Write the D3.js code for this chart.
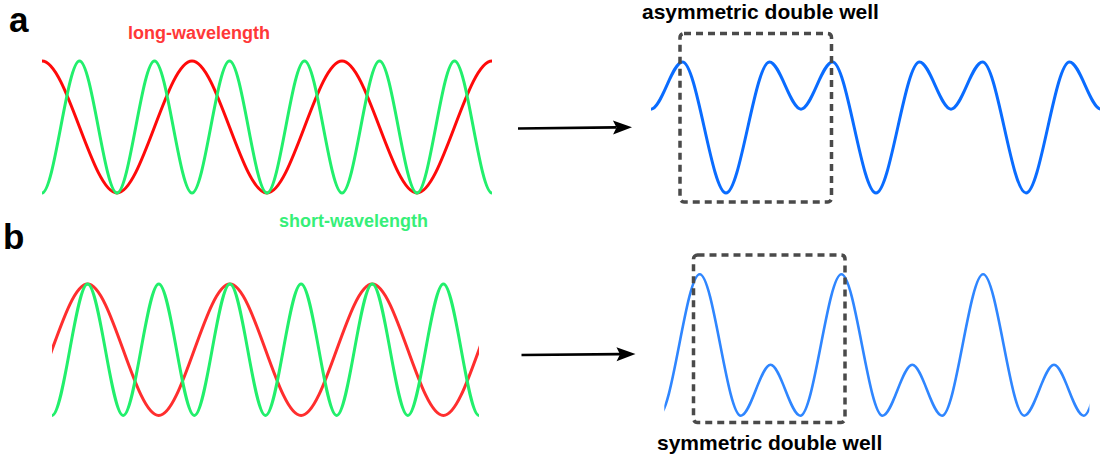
<!DOCTYPE html>
<html>
<head>
<meta charset="utf-8">
<script src="https://cdn.jsdelivr.net/npm/d3@7"></script>
<style>
  html, body { margin: 0; padding: 0; background: #fff; }
  svg { display: block; }
  text { font-family: "Liberation Sans", Arial, Helvetica, sans-serif; font-weight: bold; }
</style>
</head>
<body>
<script>
// Turning points (peaks and troughs) of every wave.
// x: position in cycles of the long wave, y: amplitude in arbitrary units.

// panel a — long wave starts on a crest, short wave on a trough
const longA_x  = [0, 0.5, 1, 1.5, 2, 2.5, 3];
const longA_y  = [1, -1, 1, -1, 1, -1, 1];
const shortA_x = [0, 0.25, 0.5, 0.75, 1, 1.25, 1.5, 1.75, 2, 2.25, 2.5, 2.75, 3];
const shortA_y = [-1, 1, -1, 1, -1, 1, -1, 1, -1, 1, -1, 1, -1];
// their sum: asymmetric double well
const sumA_x = [0, 0.21, 0.5, 0.79, 1, 1.21, 1.5, 1.79, 2, 2.21, 2.5, 2.79, 3];
const sumA_y = [0, 1.125, -2, 1.125, 0, 1.125, -2, 1.125, 0, 1.125, -2, 1.125, 0];

// panel b — long wave shifted a quarter cycle; its crests line up with short-wave crests
const longB_x  = [-0.25, 0.25, 0.75, 1.25, 1.75, 2.25, 2.75, 3.25];
const longB_y  = [-1, 1, -1, 1, -1, 1, -1, 1];
const shortB_x = [0, 0.25, 0.5, 0.75, 1, 1.25, 1.5, 1.75, 2, 2.25, 2.5, 2.75, 3];
const shortB_y = [-1, 1, -1, 1, -1, 1, -1, 1, -1, 1, -1, 1, -1];
// their sum: symmetric double well
const sumB_x = [-0.04, 0.25, 0.54, 0.75, 0.96, 1.25, 1.54, 1.75, 1.96, 2.25, 2.54, 2.75, 2.96, 3.25];
const sumB_y = [-1.125, 2, -1.125, 0, -1.125, 2, -1.125, 0, -1.125, 2, -1.125, 0, -1.125, 2];

// text
const panelLetters = ["a", "b"];
const waveLabels   = ["long-wavelength", "short-wavelength"];
const wellLabels   = ["asymmetric double well", "symmetric double well"];

const W = 1100, H = 459;
const svg = d3.select("body").append("svg").attr("width", W).attr("height", H);

// Smooth curve through turning points: horizontal tangent at each knot.
function curveTurning(context) {
  let x0, y0, started;
  return {
    areaStart() {}, areaEnd() {},
    lineStart() { started = false; },
    lineEnd() {},
    point(x, y) {
      x = +x; y = +y;
      if (!started) { context.moveTo(x, y); started = true; }
      else {
        const h = (x - x0) / 3;
        context.bezierCurveTo(x0 + h, y0, x - h, y, x, y);
      }
      x0 = x; y0 = y;
    }
  };
}

const panels = [
  { id: "la", x: d3.scaleLinear([0, 3], [42, 492]),     y: d3.scaleLinear([-1, 1], [193, 61]) },
  { id: "lb", x: d3.scaleLinear([0, 3], [52, 479]),     y: d3.scaleLinear([-1, 1], [415.5, 284]) },
  { id: "ra", x: d3.scaleLinear([0, 3], [651, 1101]),   y: d3.scaleLinear([-2, 1.125], [193, 62]) },
  { id: "rb", x: d3.scaleLinear([0, 3], [664.3, 1089.4]), y: d3.scaleLinear([-1.125, 2], [415.7, 274.3]) }
];
const P = Object.fromEntries(panels.map(p => [p.id, p]));

const defs = svg.append("defs");
panels.forEach(p => {
  defs.append("clipPath").attr("id", "clip-" + p.id)
    .append("rect")
    .attr("x", p.x(0)).attr("y", 0)
    .attr("width", p.x(3) - p.x(0)).attr("height", H);
});

function drawWave(panelId, xs, ys, color, width) {
  const p = P[panelId];
  const pts = xs.map((x, i) => [x, ys[i]]);
  const line = d3.line().x(d => p.x(d[0])).y(d => p.y(d[1])).curve(curveTurning);
  svg.append("path")
    .attr("clip-path", `url(#clip-${panelId})`)
    .attr("d", line(pts))
    .attr("fill", "none")
    .attr("stroke", color)
    .attr("stroke-width", width);
}

const RED_A = "#ff0a0a", RED_B = "#ff2e2e", GREEN = "#22ef6c";
const BLUE_A = "#0a6cff", BLUE_B = "#2f86ff";

drawWave("la", longA_x, longA_y, RED_A, 3);
drawWave("la", shortA_x, shortA_y, GREEN, 3);
drawWave("lb", longB_x, longB_y, RED_B, 3);
drawWave("lb", shortB_x, shortB_y, GREEN, 3);
drawWave("ra", sumA_x, sumA_y, BLUE_A, 3);
drawWave("rb", sumB_x, sumB_y, BLUE_B, 2.6);

// dashed frames around one double well
function dashedBox(x0, y0, x1, y1) {
  svg.append("rect")
    .attr("x", x0).attr("y", y0)
    .attr("width", x1 - x0).attr("height", y1 - y0)
    .attr("rx", 4).attr("ry", 4)
    .attr("fill", "none")
    .attr("stroke", "#4a4a4a")
    .attr("stroke-width", 3.5)
    .attr("stroke-dasharray", "7,5");
}
dashedBox(680, 33.5, 831.5, 202);
dashedBox(693.5, 255, 845, 422.5);

// arrows from the components to their sum
function arrow(x0, y0, x1, y1) {
  const ang = Math.atan2(y1 - y0, x1 - x0);
  const len = 19, half = 7, notch = 3.5;
  const back = [x1 - len * Math.cos(ang), y1 - len * Math.sin(ang)];
  const nx = -Math.sin(ang), ny = Math.cos(ang);
  svg.append("line")
    .attr("x1", x0).attr("y1", y0)
    .attr("x2", back[0] + notch * Math.cos(ang)).attr("y2", back[1] + notch * Math.sin(ang))
    .attr("stroke", "#000").attr("stroke-width", 2.6);
  const head = [
    [x1, y1],
    [back[0] + half * nx, back[1] + half * ny],
    [back[0] + notch * Math.cos(ang), back[1] + notch * Math.sin(ang)],
    [back[0] - half * nx, back[1] - half * ny]
  ];
  svg.append("path").attr("d", "M" + head.map(d => d.join(",")).join("L") + "Z").attr("fill", "#000");
}
arrow(518, 128.5, 632, 127.2);
arrow(521.5, 355, 635.5, 354);

// labels
svg.append("text").attr("x", 9).attr("y", 32).attr("font-size", 35).attr("fill", "#000").text(panelLetters[0]);
svg.append("text").attr("x", 3).attr("y", 249).attr("font-size", 35).attr("fill", "#000").text(panelLetters[1]);
svg.append("text").attr("x", 128).attr("y", 39).attr("font-size", 18).attr("fill", "#ff3838").text(waveLabels[0]);
svg.append("text").attr("x", 279).attr("y", 227).attr("font-size", 18).attr("fill", "#36ef78").text(waveLabels[1]);
svg.append("text").attr("x", 642).attr("y", 19).attr("font-size", 21).attr("fill", "#000").text(wellLabels[0]);
svg.append("text").attr("x", 657).attr("y", 450).attr("font-size", 21).attr("fill", "#000").text(wellLabels[1]);
</script>
</body>
</html>
